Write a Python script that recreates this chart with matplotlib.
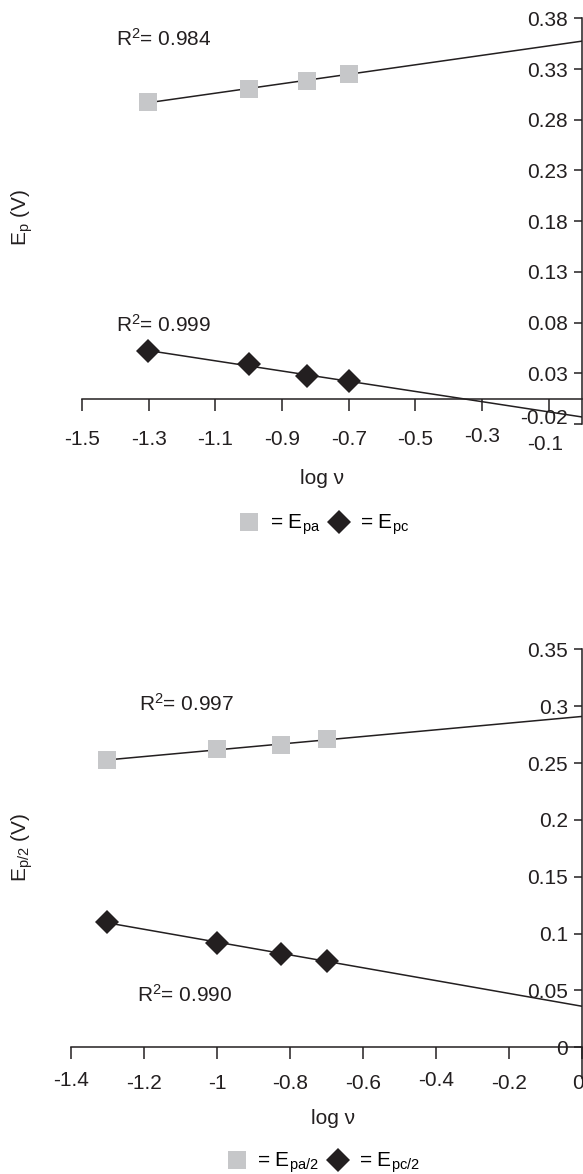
import numpy as np
import matplotlib
matplotlib.use('Agg')
import matplotlib.pyplot as plt
from matplotlib.lines import Line2D
from matplotlib.transforms import ScaledTranslation

plt.rcParams['font.family'] = ['Liberation Sans', 'DejaVu Sans']
plt.rcParams['mathtext.default'] = 'regular'
plt.rcParams['font.size'] = 15

# ---------------- data ----------------
log_v = [-1.301, -1.0, -0.824, -0.699]
epa = [0.297, 0.3106, 0.3185, 0.3254]
epc = [0.0519, 0.0388, 0.0272, 0.0223]
epa2 = [0.2526, 0.2622, 0.2657, 0.2709]
epc2 = [0.110, 0.0916, 0.0823, 0.0762]

r2_top = ['0.984', '0.999']
r2_bot = ['0.997', '0.990']

top_xticks = [-1.5, -1.3, -1.1, -0.9, -0.7, -0.5, -0.3, -0.1]
top_xticklabels = ['-1.5', '-1.3', '-1.1', '-0.9', '-0.7', '-0.5', '-0.3', '-0.1']
top_yticks = [-0.02, 0.03, 0.08, 0.13, 0.18, 0.23, 0.28, 0.33, 0.38]
top_yticklabels = ['-0.02', '0.03', '0.08', '0.13', '0.18', '0.23', '0.28', '0.33', '0.38']

bot_xticks = [-1.4, -1.2, -1.0, -0.8, -0.6, -0.4, -0.2, 0.0]
bot_xticklabels = ['-1.4', '-1.2', '-1', '-0.8', '-0.6', '-0.4', '-0.2', '0']
bot_yticks = [0.0, 0.05, 0.1, 0.15, 0.2, 0.25, 0.3, 0.35]
bot_yticklabels = ['0', '0.05', '0.1', '0.15', '0.2', '0.25', '0.3', '0.35']

SQ_COLOR = '#C6C7C9'
DM_COLOR = '#231F20'
LINE_COLOR = '#231F20'

W, H = 583, 1174
fig = plt.figure(figsize=(W / 100, H / 100), dpi=100)


def px_axes(left, top, right, bottom):
    return fig.add_axes([left / W, 1 - bottom / H, (right - left) / W, (bottom - top) / H])


def trend(ax, x, y):
    k, b = np.polyfit(x, y, 1)
    xs = np.array([x[0], 0.0])
    ax.plot(xs, k * xs + b, color=LINE_COLOR, lw=1.1, zorder=2)


def style(ax, xcross, xlim, ylim, xticks, xtl, yticks, ytl, xpad):
    ax.set_xlim(*xlim)
    ax.set_ylim(*ylim)
    for s in ['top', 'right']:
        ax.spines[s].set_visible(False)
    ax.spines['left'].set_position(('data', 0.0))
    ax.spines['bottom'].set_position(('data', xcross))
    for s in ['left', 'bottom']:
        ax.spines[s].set_linewidth(1.1)
        ax.spines[s].set_color(LINE_COLOR)
    ax.set_xticks(xticks)
    ax.set_xticklabels(xtl)
    ax.set_yticks(yticks)
    ax.set_yticklabels(ytl)
    ax.tick_params(axis='x', direction='out', length=8.5, width=1.1, pad=xpad,
                   colors=LINE_COLOR, labelsize=15)
    ax.tick_params(axis='y', direction='out', length=6, width=1.1, pad=4,
                   colors=LINE_COLOR, labelsize=15)
    ax.patch.set_visible(False)


def nudge(label, dx_px, dy_px):
    # dy_px positive = move up
    label.set_transform(label.get_transform() +
                        ScaledTranslation(dx_px / 100, dy_px / 100, fig.dpi_scale_trans))


# ---------------- top chart ----------------
ax1 = px_axes(82, 18.3, 582, 424)
style(ax1, 0.005, (-1.5, 0.0), (-0.02, 0.38), top_xticks, top_xticklabels,
      top_yticks, top_yticklabels, 14)
trend(ax1, log_v, epa)
trend(ax1, log_v, epc)
ax1.plot(log_v, epa, 's', color=SQ_COLOR, ms=13, mew=0, zorder=3)
ax1.plot(log_v, epc, 'D', color=DM_COLOR, ms=12, mew=0, zorder=3)
ax1.text(-1.255, 0.36, 'R$^2$= ' + r2_top[0], ha='center', va='center', fontsize=15, color=LINE_COLOR)
ax1.text(-1.255, 0.0775, 'R$^2$= ' + r2_top[1], ha='center', va='center', fontsize=15, color=LINE_COLOR)
ax1.set_xlabel('log ν', fontsize=15, color=LINE_COLOR)
ax1.xaxis.label.set_va('center')
ax1.xaxis.set_label_coords((322 - 82) / 500, (424 - 478) / 405.7)
ax1.set_ylabel('E$_p$ (V)', fontsize=15, color=LINE_COLOR)
ax1.yaxis.label.set_va('center')
ax1.yaxis.set_label_coords((22 - 82) / 500, (424 - 217) / 405.7)

xt1 = ax1.xaxis.get_major_ticks()
nudge(xt1[6].label1, 0, 3)
nudge(xt1[7].label1, -4, -5)
yt1 = ax1.yaxis.get_major_ticks()
nudge(yt1[0].label1, 0, 8)

h_sq = Line2D([], [], ls='none', marker='s', color=SQ_COLOR, ms=13, mew=0)
h_dm = Line2D([], [], ls='none', marker='D', color=DM_COLOR, ms=12, mew=0)
fig.legend([h_sq, h_dm], ['= E$_{pa}$', '= E$_{pc}$'], ncol=2, frameon=False,
           loc='center', bbox_to_anchor=(324 / W, 1 - 525 / H), handlelength=1.0,
           handletextpad=0.5, columnspacing=0.4, fontsize=15, borderaxespad=0)

# ---------------- bottom chart ----------------
ax2 = px_axes(71, 649.3, 582, 1078)
style(ax2, 0.0, (-1.4, 0.0), (-0.027, 0.35), bot_xticks, bot_xticklabels,
      bot_yticks, bot_yticklabels, 11)
trend(ax2, log_v, epa2)
trend(ax2, log_v, epc2)
ax2.plot(log_v, epa2, 's', color=SQ_COLOR, ms=13, mew=0, zorder=3)
ax2.plot(log_v, epc2, 'D', color=DM_COLOR, ms=12, mew=0, zorder=3)
ax2.text(-1.082, 0.302, 'R$^2$= ' + r2_bot[0], ha='center', va='center', fontsize=15, color=LINE_COLOR)
ax2.text(-1.088, 0.046, 'R$^2$= ' + r2_bot[1], ha='center', va='center', fontsize=15, color=LINE_COLOR)
ax2.set_xlabel('log ν', fontsize=15, color=LINE_COLOR)
ax2.xaxis.label.set_va('center')
ax2.xaxis.set_label_coords((333 - 71) / 511, (1078 - 1118) / 428.7)
ax2.set_ylabel('E$_{p/2}$ (V)', fontsize=15, color=LINE_COLOR)
ax2.yaxis.label.set_va('center')
ax2.yaxis.set_label_coords((22 - 71) / 511, (1078 - 847) / 428.7)

xt2 = ax2.xaxis.get_major_ticks()
nudge(xt2[0].label1, 0, 3)
nudge(xt2[5].label1, 0, 3)
nudge(xt2[7].label1, -4, 0)

fig.legend([h_sq, h_dm], ['= E$_{pa/2}$', '= E$_{pc/2}$'], ncol=2, frameon=False,
           loc='center', bbox_to_anchor=(323 / W, 1 - 1163 / H), handlelength=1.0,
           handletextpad=0.5, columnspacing=0.4, fontsize=15, borderaxespad=0)

fig.savefig('out.png', dpi=100)
